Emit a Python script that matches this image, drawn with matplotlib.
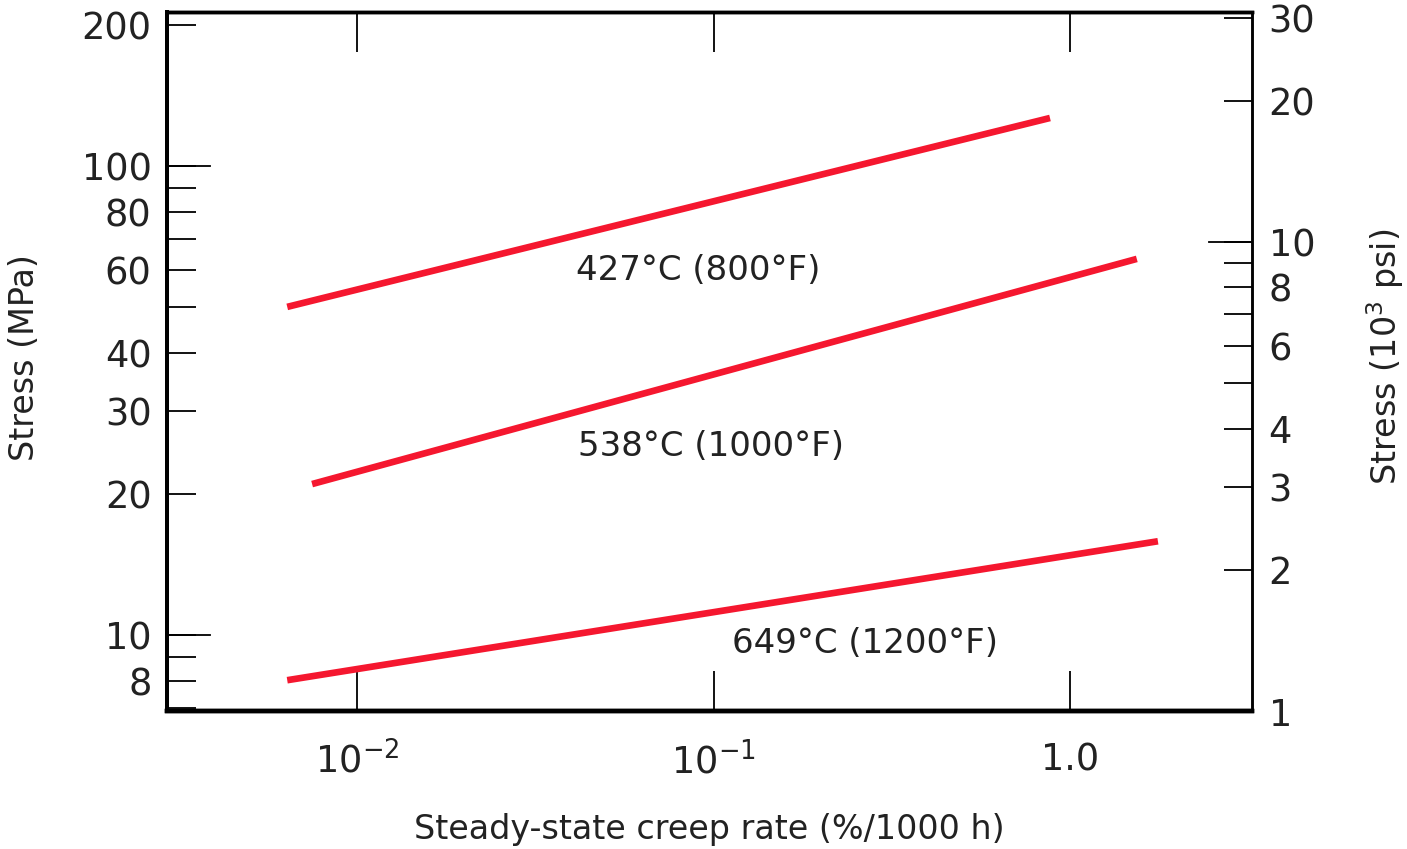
import numpy as np
import matplotlib.pyplot as plt
from matplotlib.ticker import FixedLocator, FixedFormatter, NullFormatter

plt.rcParams['font.family'] = 'DejaVu Sans'
plt.rcParams['mathtext.default'] = 'regular'

# creep rate (%/1000 h) and stress (MPa) at the ends of each line
rate_427 = [0.00637, 0.879]
stress_427 = [50.1, 126.6]
rate_538 = [0.00748, 1.54]
stress_538 = [21.0, 63.4]
rate_649 = [0.00637, 1.765]
stress_649 = [8.02, 15.86]

labels = ['427°C (800°F)', '538°C (1000°F)', '649°C (1200°F)']
label_x = [0.0905, 0.0984, 0.266]
label_y = [60.0, 25.2, 9.62]

mpa_major = [200, 100, 80, 60, 40, 30, 20, 10, 8]
mpa_minor = [90, 70, 50, 9, 7]
ksi_major = [30, 20, 10, 8, 6, 4, 3, 2, 1]
ksi_minor = [9, 7, 5]
MPA_TO_KSI = 0.145038

red = '#f5172f'
ink = '#222222'
xmin, xmax = 0.00293, 3.24
ymin, ymax = 1.0 / MPA_TO_KSI - 0.001, 213

fig = plt.figure(figsize=(14.07, 8.49), dpi=100)
ax = fig.add_axes([0.1187, 0.1625, 0.7711, 0.8234])

for r, s in [(rate_427, stress_427), (rate_538, stress_538), (rate_649, stress_649)]:
    ax.plot(r, s, color=red, lw=4.8, solid_capstyle='butt')

for t, x, y in zip(labels, label_x, label_y):
    ax.text(x, y, t, ha='center', va='center', fontsize=24.5, color=ink)

ax.set_xscale('log')
ax.set_yscale('log')
ax.set_xlim(xmin, xmax)
ax.set_ylim(ymin, ymax)

ax.xaxis.set_major_locator(FixedLocator([0.01, 0.1, 1.0]))
ax.xaxis.set_major_formatter(FixedFormatter(['$10^{-2}$', '$10^{-1}$', '1.0']))
ax.xaxis.set_minor_locator(FixedLocator([]))
ax.tick_params(axis='x', which='major', direction='in', length=29, width=1.3,
               top=True, labelsize=26.5, pad=22, labelcolor=ink)

ax.yaxis.set_major_locator(FixedLocator(mpa_major))
ax.yaxis.set_major_formatter(FixedFormatter([str(v) for v in mpa_major]))
ax.yaxis.set_minor_locator(FixedLocator(mpa_minor))
ax.yaxis.set_minor_formatter(NullFormatter())
ax.tick_params(axis='y', which='both', direction='in', length=21, width=1.3,
               labelsize=26.5, pad=11, labelcolor=ink)
# longer ticks at the decades
for v in [100, 10]:
    ax.plot([xmin, xmin * 10 ** (43 / 356.5)], [v, v], color='black', lw=1.3,
            clip_on=False, zorder=5)

ax.set_xlabel('Steady-state creep rate (%/1000 h)', fontsize=24, color=ink)
ax.set_ylabel('Stress (MPa)', fontsize=24, color=ink)
ax.xaxis.set_label_coords(0.5, -0.170)
ax.xaxis.label.set_va('center')
ax.yaxis.set_label_coords(-0.1309, 0.506)
ax.yaxis.label.set_va('center')

ax2 = ax.twinx()
ax2.set_yscale('log')
ax2.set_ylim(ymin * MPA_TO_KSI, ymax * MPA_TO_KSI)
ax2.yaxis.set_major_locator(FixedLocator(ksi_major))
ax2.yaxis.set_major_formatter(FixedFormatter([str(v) for v in ksi_major]))
ax2.yaxis.set_minor_locator(FixedLocator(ksi_minor))
ax2.yaxis.set_minor_formatter(NullFormatter())
ax2.tick_params(axis='y', which='both', direction='in', length=20, width=1.3,
                labelsize=26.5, pad=12, labelcolor=ink)
ax2.plot([xmax / 10 ** (43 / 356.5), xmax], [10, 10], color='black', lw=1.3,
         clip_on=False, zorder=5)
ax2.set_ylabel('Stress (10$^3$ psi)', fontsize=24, color=ink)
ax2.yaxis.set_label_coords(1.1226, 0.506)
ax2.yaxis.label.set_va('center')

for a in (ax, ax2):
    a.spines['left'].set_linewidth(2.8)
    a.spines['bottom'].set_linewidth(3.2)
    a.spines['top'].set_linewidth(2.5)
    a.spines['right'].set_linewidth(1.8)

ax.set_xlim(xmin, xmax)
fig.savefig('out.png', dpi=100)
